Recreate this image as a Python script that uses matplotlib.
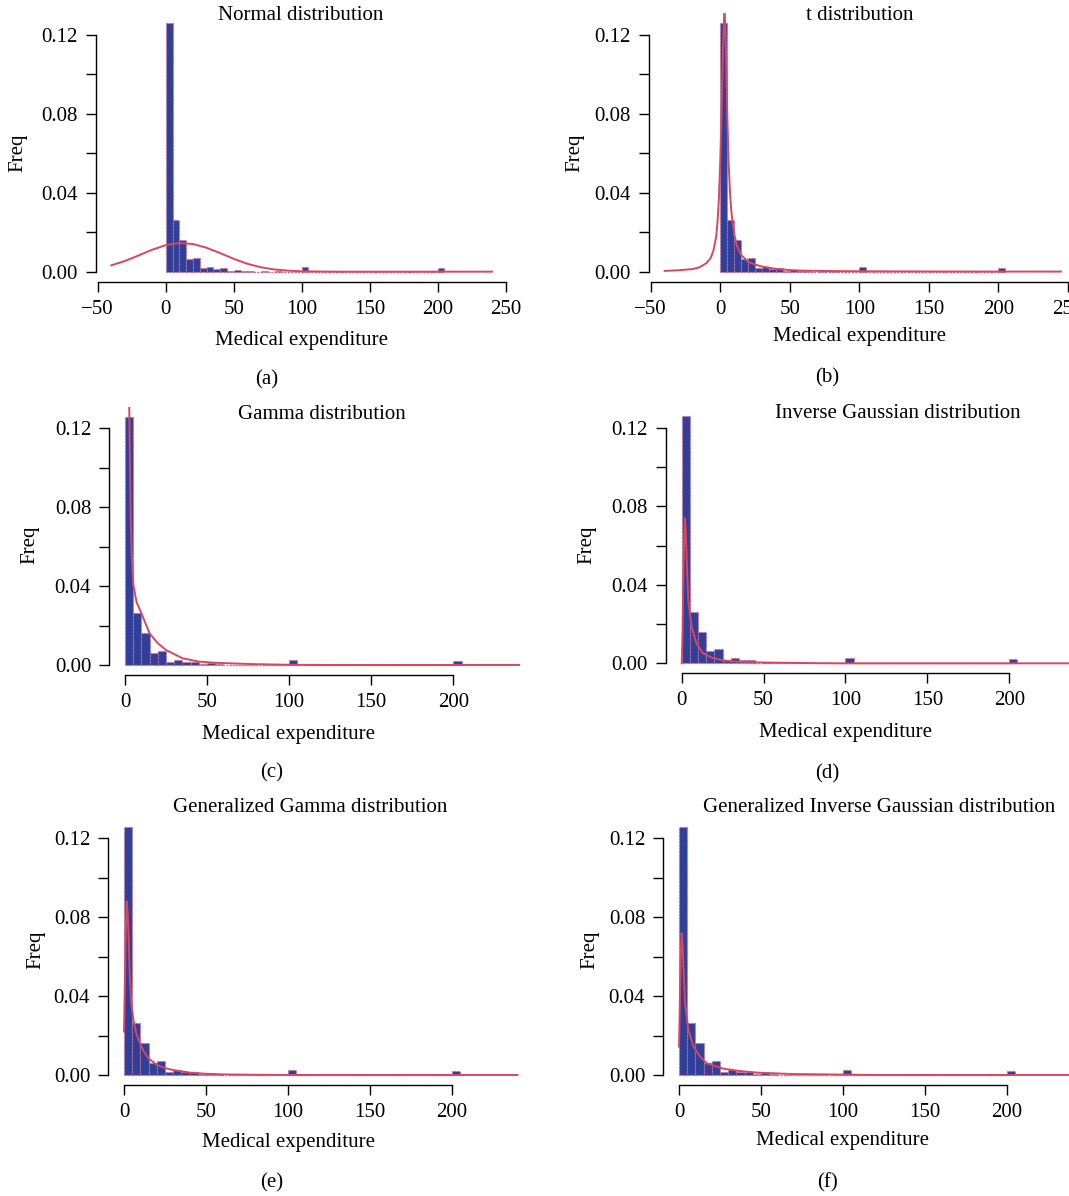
import matplotlib
matplotlib.use("Agg")
import matplotlib.pyplot as plt

plt.rcParams['font.family'] = ['Liberation Serif', 'DejaVu Serif']

W, H = 1069, 1196

# ---------------- data ----------------
bin_left = list(range(0, 205, 5))
bin_height = [0.1259, 0.0263, 0.0161, 0.0063, 0.0071, 0.0017, 0.0025, 0.0015, 0.0017, 0.0004,
              0.0008, 0.0004, 0.0002, 0.0, 0.0002, 0.0, 0.0002, 0.0, 0.0, 0.0,
              0.0025, 0.0, 0.0, 0.0, 0.0, 0.0, 0.0, 0.0, 0.0, 0.0,
              0.0, 0.0, 0.0, 0.0, 0.0, 0.0, 0.0, 0.0, 0.0, 0.0,
              0.0021]

normal_x = [-40, -30, -20, -10, 0, 10, 20, 30, 40, 50, 60, 70, 80, 90, 100, 110, 120, 130, 240]
normal_y = [0.0032, 0.0054, 0.0082, 0.0111, 0.0134, 0.0145, 0.0140, 0.0121, 0.0094, 0.0065,
            0.0040, 0.0022, 0.0011, 0.0005, 0.0002, 0.0001, 0.00002, 0.0, 0.0]

t_x = [-40, -30, -20, -15, -10, -7, -5, -3, -2, -1, 0, 1, 2, 3, 4, 5, 6, 7, 8, 10, 12, 15,
       20, 25, 30, 40, 50, 60, 80, 100, 150, 200, 245]
t_y = [0.0004, 0.0007, 0.0013, 0.0022, 0.0043, 0.0068, 0.0105, 0.0175, 0.025, 0.037, 0.056,
       0.083, 0.113, 0.135, 0.115, 0.080, 0.055, 0.040, 0.030, 0.019, 0.013, 0.0085,
       0.0050, 0.0036, 0.0026, 0.0014, 0.0008, 0.0005, 0.0003, 0.0002, 0.0001, 0.00005, 0.00003]

gamma_x = [2.0, 2.6, 3.0, 3.5, 4.0, 5.0, 7.0, 10, 15, 20, 25, 35, 45, 55, 65, 80, 100, 120, 240]
gamma_y = [0.160, 0.131, 0.105, 0.075, 0.058, 0.041, 0.032, 0.0262, 0.0160, 0.0110, 0.0076,
           0.0034, 0.0017, 0.0011, 0.0008, 0.0004, 0.0001, 0.0, 0.0]

ig_x = [0.0, 0.5, 1.0, 1.5, 2.0, 2.5, 3.0, 4.0, 6.0, 9.0, 13, 19, 27, 37, 50, 60, 80, 100, 240]
ig_y = [0.0, 0.015, 0.044, 0.064, 0.074, 0.066, 0.054, 0.032, 0.0187, 0.0102, 0.0051, 0.0026,
        0.0013, 0.0007, 0.0004, 0.0003, 0.0001, 0.0, 0.0]

gg_x = [0.0, 0.5, 1.0, 1.6, 2.2, 2.8, 3.5, 4.5, 5.7, 7.5, 9.8, 12, 14.8, 20, 25, 30, 40,
        50, 60, 80, 100, 240]
gg_y = [0.022, 0.045, 0.070, 0.088, 0.082, 0.070, 0.050, 0.036, 0.028, 0.021, 0.016, 0.012,
        0.0085, 0.0051, 0.0035, 0.0025, 0.0012, 0.0006, 0.0003, 0.0001, 0.0, 0.0]

gig_x = [0.0, 0.5, 1.0, 1.6, 2.0, 2.6, 3.7, 5.7, 8.8, 12.9, 17, 27, 37, 47.5, 68, 98.6,
         120, 240]
gig_y = [0.0144, 0.035, 0.058, 0.0718, 0.068, 0.0566, 0.0363, 0.0228, 0.0144, 0.0093, 0.0059,
         0.0032, 0.0020, 0.0012, 0.0005, 0.0002, 0.0, 0.0]

titles = ["Normal distribution", "t distribution", "Gamma distribution",
          "Inverse Gaussian distribution", "Generalized Gamma distribution",
          "Generalized Inverse Gaussian distribution"]
sub_labels = ["(a)", "(b)", "(c)", "(d)", "(e)", "(f)"]
curves = [(normal_x, normal_y), (t_x, t_y), (gamma_x, gamma_y), (ig_x, ig_y),
          (gg_x, gg_y), (gig_x, gig_y)]
ytick_vals = [0.0, 0.02, 0.04, 0.06, 0.08, 0.10, 0.12]
ytick_text = ["0.00", "", "0.04", "", "0.08", "", "0.12"]

# ---------------- layout (pixels) ----------------
# left, right, top, bottom of plot region
rects = [(96.1, 507.3, 13.1, 281.6),
         (649.1, 1069.5, 13.1, 281.6),
         (109.2, 534.8, 406.7, 674.9),
         (666.0, 1090.5, 406.5, 673.2),
         (108.3, 533.1, 816.7, 1084.9),
         (663.3, 1088.0, 816.7, 1084.9)]
xlims = [(-51.2, 251.2), (-51.2, 251.2)] + [(-9.6, 249.6)] * 4
xticks = [[-50, 0, 50, 100, 150, 200, 250]] * 2 + [[0, 50, 100, 150, 200]] * 4
title_pos = [(301, 16), (860, 16), (322, 415), (898, 414), (310.5, 808), (879, 808)]
xlab_pos = [(301.7, 341), (859.5, 336), (289, 734), (845.5, 733), (289, 1142), (842.5, 1141)]
sub_pos = [(267, 380), (827, 378), (272, 773), (827, 774), (272, 1183), (827, 1183)]
ylab_pos = [(18, 153), (575, 153), (30, 545), (587, 545), (36, 950), (590, 950)]

BAR = '#2E3F9C'
EDGE = '#E0607A'
LINE = '#D8465F'
FS = 15

fig = plt.figure(figsize=(W / 100, H / 100), dpi=100)


def fx(x):
    return x / W


def fy(y):
    return 1 - y / H


for i in range(6):
    l, r, t, b = rects[i]
    ax = fig.add_axes([fx(l), fy(b), (r - l) / W, (b - t) / H])
    ax.set_xlim(*xlims[i])
    ax.set_ylim(-0.005036, 0.130936)
    ax.bar(bin_left, bin_height, width=5, align='edge', color=BAR,
           edgecolor=EDGE, linestyle=':', linewidth=0.9, zorder=2)
    cx, cy = curves[i]
    ax.plot(cx, cy, color=LINE, linewidth=1.4, zorder=3)

    for s in ['top', 'right']:
        ax.spines[s].set_visible(False)
    ax.spines['left'].set_bounds(0, 0.12)
    ax.spines['bottom'].set_bounds(xticks[i][0], xticks[i][-1])
    for s in ['left', 'bottom']:
        ax.spines[s].set_linewidth(1.0)
    ax.set_yticks(ytick_vals)
    ax.set_yticklabels(ytick_text)
    ax.set_xticks(xticks[i])
    ax.set_xticklabels([("\u2212" + str(-v)) if v < 0 else str(v) for v in xticks[i]])
    ax.tick_params(axis='both', direction='out', length=7, width=1.0, labelsize=FS)
    ax.tick_params(axis='y', pad=6)
    ax.tick_params(axis='x', pad=6)
    ax.patch.set_alpha(0)

    fig.text(fx(title_pos[i][0]), fy(title_pos[i][1]), titles[i], ha='center', va='center', fontsize=FS)
    fig.text(fx(xlab_pos[i][0]), fy(xlab_pos[i][1]), "Medical expenditure", ha='center', va='center', fontsize=FS)
    fig.text(fx(sub_pos[i][0]), fy(sub_pos[i][1]), sub_labels[i], ha='center', va='center', fontsize=FS)
    fig.text(fx(ylab_pos[i][0]), fy(ylab_pos[i][1]), "Freq", ha='center', va='center', fontsize=FS, rotation=90)

fig.savefig("out.png", dpi=100)
